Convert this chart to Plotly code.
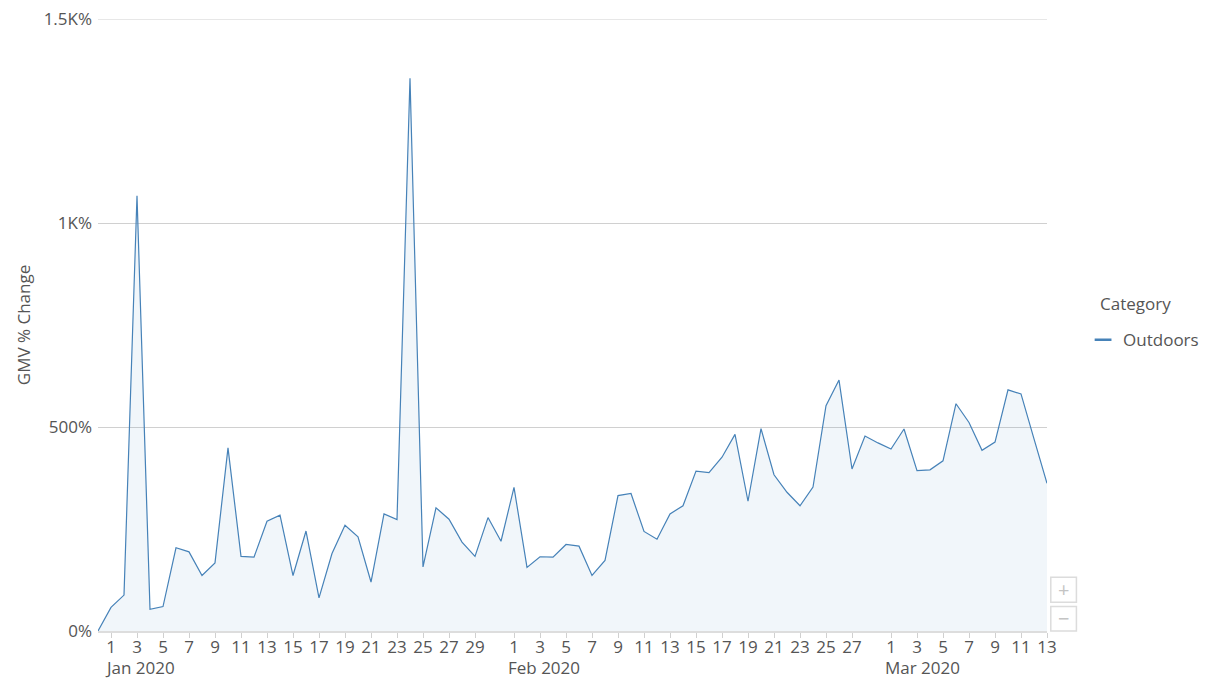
import pandas as pd
import plotly.graph_objects as go

start_date = "2019-12-31"
gmv_pct_change = [
    0,
    58, 88, 1067, 53, 60, 204, 194, 136, 167, 449,
    183, 181, 269, 284, 136, 245, 81, 190, 259, 231,
    120, 287, 273, 1355, 157, 302, 274, 218, 183, 278, 220,
    352, 156, 182, 181, 212, 208, 136, 173, 332, 337,
    244, 225, 287, 307, 392, 388, 426, 482, 318, 496,
    383, 340, 307, 353, 552, 615, 397, 478, 461,
    446, 495, 393, 395, 417, 557, 511, 443, 463, 591,
    581, 471, 362,
]
dates = pd.date_range(start_date, periods=len(gmv_pct_change), freq="D")

tick_dates = (
    [f"2020-01-{d:02d}" for d in range(1, 30, 2)]
    + [f"2020-02-{d:02d}" for d in range(1, 28, 2)]
    + [f"2020-03-{d:02d}" for d in range(1, 14, 2)]
)
tick_text = [str(int(t[-2:])) for t in tick_dates]
month_dates = ["2020-01-01", "2020-02-01", "2020-03-01"]
month_labels = ["Jan 2020", "Feb 2020", "Mar 2020"]
y_ticks = [0, 500, 1000, 1500]
y_tick_text = ["0%", "500%", "1K%", "1.5K%"]
legend_title = "Category"
series_name = "Outdoors"

line_color = "#4682b8"
text_color = "#555555"
grid_color = "#d0d0d0"
font_family = "Open Sans, Noto Sans, sans-serif"
fs = 17

fig = go.Figure()
fig.add_trace(go.Scatter(
    x=dates, y=gmv_pct_change, mode="lines", fill="tozeroy",
    fillcolor="rgba(70,130,184,0.075)",
    line=dict(color=line_color, width=1.2),
    name=series_name, showlegend=False,
))
fig.add_trace(go.Scatter(
    x=[None], y=[None], mode="markers",
    marker=dict(symbol="line-ew", size=12, color=line_color,
                line=dict(color=line_color, width=2.5)),
    name=series_name, showlegend=True,
))

# top gridline (at the range edge)
fig.add_shape(type="line", xref="paper", yref="y", x0=0, x1=1,
              y0=y_ticks[-1], y1=y_ticks[-1], layer="below",
              line=dict(color=grid_color, width=1))

for md, ml in zip(month_dates, month_labels):
    fig.add_annotation(
        x=md, y=0, xref="x", yref="paper", text=ml, showarrow=False,
        xanchor="left", yanchor="middle", xshift=-8, yshift=-36,
        font=dict(size=fs, color=text_color, family=font_family),
    )

fig.add_annotation(
    x=1.0, y=0.535, xref="paper", yref="paper", text=legend_title,
    showarrow=False, xanchor="left", yanchor="middle", xshift=51,
    font=dict(size=fs, color=text_color, family=font_family),
)

# zoom control boxes
for y0, y1, sym in [(0.047, 0.088, "+"), (0.0, 0.040, "−")]:
    fig.add_shape(type="rect", xref="paper", yref="paper",
                  x0=1.004, x1=1.031, y0=y0, y1=y1,
                  line=dict(color="#dcdcdc", width=1.5))
    fig.add_annotation(x=1.0175, y=(y0 + y1) / 2, xref="paper", yref="paper",
                       text=sym, showarrow=False, xanchor="center", yanchor="middle",
                       font=dict(size=20, color="#c4c4c4", family=font_family))

fig.update_layout(
    width=1217, height=683,
    margin=dict(l=90, r=178, t=11, b=60, autoexpand=False),
    paper_bgcolor="white", plot_bgcolor="white",
    font=dict(family=font_family, size=fs, color=text_color),
    xaxis=dict(
        range=[dates[0], dates[-1]], automargin=False,
        tickmode="array", tickvals=tick_dates, ticktext=tick_text,
        ticks="outside", ticklen=5, tickcolor="#d0d0d0",
        ticklabelstandoff=-5, ticklabeloverflow="allow",
        showgrid=False, showline=True, linecolor="#dddddd", linewidth=2,
        tickfont=dict(size=fs, color=text_color), zeroline=False,
    ),
    yaxis=dict(
        range=[0, 1500], automargin=False,
        tickmode="array", tickvals=y_ticks, ticktext=y_tick_text,
        ticklabeloverflow="allow", ticklabelstandoff=5,
        showgrid=True, gridcolor=grid_color, gridwidth=1, zeroline=False,
        showline=False, ticks="",
        tickfont=dict(size=fs, color=text_color),
        title=dict(text="GMV % Change", font=dict(size=fs, color=text_color), standoff=8),
    ),
    legend=dict(
        x=1.038, xanchor="left", y=0.475, yanchor="middle",
        font=dict(size=fs, color=text_color), itemwidth=30,
    ),
)

fig.write_html("out.html")
